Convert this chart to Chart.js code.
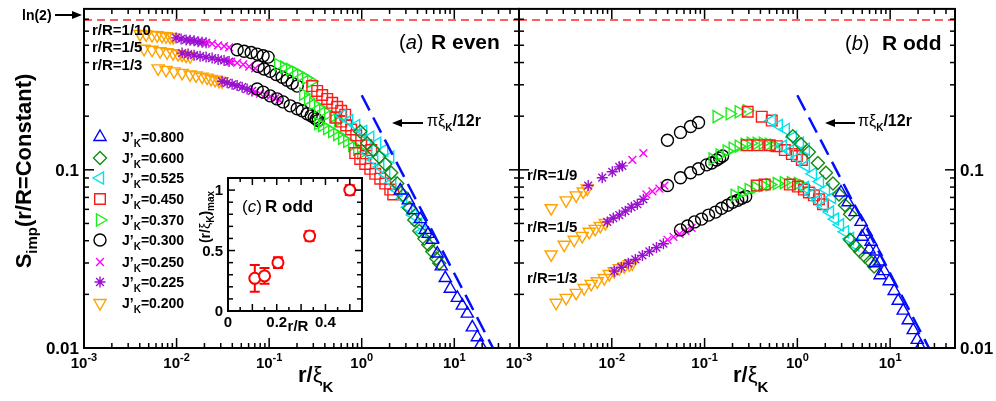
<!DOCTYPE html>
<html lang="en">
<head>
<meta charset="UTF-8">
<title>S_imp versus r/xi_K</title>
<script src="https://cdn.jsdelivr.net/npm/chart.js"></script>
<style>
  body { margin: 0; background: #fff; }
  .wrap { position: relative; width: 996px; height: 401px; background: #fff; }
  .wrap canvas { position: absolute; left: 0; top: 0; }
</style>
</head>
<body>
<div class="wrap">
  <canvas id="evenChart" width="996" height="401"></canvas>
  <canvas id="oddChart" width="996" height="401"></canvas>
  <canvas id="insetChart" width="996" height="401"></canvas>
</div>
<script>
// ---- axis ticks ----
const xMajorTicks = [0.001, 0.01, 0.1, 1, 10];
const xTickExponents = ['-3', '-2', '-1', '0', '1'];
const xMinorTicks = [0.002, 0.003, 0.004, 0.005, 0.006, 0.007, 0.008, 0.009,
  0.02, 0.03, 0.04, 0.05, 0.06, 0.07, 0.08, 0.09,
  0.2, 0.3, 0.4, 0.5, 0.6, 0.7, 0.8, 0.9,
  2, 3, 4, 5, 6, 7, 8, 9, 20, 30, 40];
const yMajorTicks = [0.01, 0.1];
const yTickLabels = ['0.01', '0.1'];
const yMinorTicks = [0.02, 0.03, 0.04, 0.05, 0.06, 0.07, 0.08, 0.09, 0.2, 0.3, 0.4, 0.5, 0.6, 0.7];

// reference lines
const ln2Line = [[0.001, 0.693], [50, 0.693]];
const theoryLine = [[1, 0.262], [26.2, 0.01]];   // pi xi_K / 12 r

const jLabels = ['0.800', '0.600', '0.525', '0.450', '0.370', '0.300', '0.250', '0.225', '0.200'];

// ---- (a) R even : [r/xi_K, S_imp] ----
const evenJ800 = [[2.608,0.0766],[3.182,0.0674],[3.604,0.0594],[4.29,0.0529],[4.859,0.046],[5.235,0.0437],[5.783,0.0405],
  [6.55,0.0339],[7.236,0.0287],[7.99,0.0247],[9.05,0.0215],[10.78,0.0191],[12.2,0.0173],[13.82,0.0156],[15.65,0.01306],[17.73,0.0115],[19.1,0.01039]];
const evenJ600 = [[0.963,0.1642],[1.147,0.141],[1.331,0.129],[1.546,0.118],[1.795,0.1079],[2.084,0.0963],[2.42,0.0837],[2.81,0.0719],
  [3.262,0.0609],[3.695,0.0523],[4.183,0.0454],[4.739,0.0411],[5.235,0.038],[5.783,0.0348],[6.389,0.0318],[6.88,0.0299]];
const evenJ525 = [[0.6155,0.2013],[0.7326,0.1889],[0.872,0.1773],[1.038,0.1642],[1.236,0.1522],[1.471,0.141],[1.751,0.129],[2.033,0.118],
  [1.176,0.1242],[1.365,0.1136],[1.585,0.1039],[1.84,0.0939],[2.136,0.0848],[2.481,0.0766],[2.81,0.0692],[3.182,0.0617],[3.604,0.0557],[4.082,0.0497],[4.51,0.0449]];
const evenJ450 = [[0.2916,0.295],[0.3303,0.277],[0.374,0.263],[0.4236,0.25],[0.4798,0.2376],[0.5434,0.2257],[0.6004,0.2145],[0.6633,0.2039],
  [0.53,0.1963],[0.6004,0.1865],[0.68,0.1773],[0.77,0.1684],[0.872,0.1561],[0.9876,0.1464],[1.118,0.1374],[1.267,0.129],
  [0.851,0.1242],[0.963,0.115],[1.091,0.1079],[1.236,0.1013],[1.399,0.095],[1.585,0.0892],[1.795,0.0837],[2.033,0.0775],[2.19,0.0727]];
const evenJ370 = [[0.1251,0.39],[0.1453,0.378],[0.1687,0.366],[0.1958,0.352],[0.2218,0.339],[0.2512,0.327],[0.2845,0.314],
  [0.2332,0.266],[0.264,0.25],[0.299,0.2346],[0.3386,0.2257],[0.3836,0.2145],[0.4343,0.2064],[0.4919,0.1988],[0.557,0.1889],
  [0.3386,0.1818],[0.374,0.1773],[0.4236,0.1706],[0.4798,0.1642],[0.5434,0.1581],[0.6155,0.1502],[0.697,0.1446],[0.7895,0.1374],[0.894,0.1306],[0.9876,0.1242]];
const evenJ300 = [[0.0451,0.472],[0.0537,0.463],[0.0639,0.455],[0.0742,0.446],[0.0861,0.437],[0.0975,0.429],
  [0.076,0.38],[0.0883,0.368],[0.1025,0.357],[0.119,0.343],[0.1382,0.331],[0.1565,0.318],[0.1773,0.306],[0.2008,0.295],
  [0.0742,0.284],[0.0861,0.273],[0.1025,0.26],[0.1221,0.25],[0.1417,0.2405],[0.1687,0.2286],[0.2008,0.22],[0.2274,0.2145],
  [0.2575,0.2064],[0.2845,0.2013],[0.3066,0.1963],[0.3222,0.1925],[0.3386,0.1889]];
const evenJ250 = [[0.02084,0.516],[0.0242,0.51],[0.0281,0.5],[0.0326,0.494],[0.0369,0.487],
  [0.0388,0.405],[0.0451,0.398],[0.0524,0.39],[0.0608,0.38],[0.0706,0.371],
  [0.0706,0.273],[0.0799,0.268],[0.0905,0.263],[0.1025,0.258],[0.1161,0.252],[0.1283,0.247]];
const evenJ225 = [[0.00988,0.55],[0.01119,0.543],[0.01267,0.536],[0.01399,0.533],[0.01546,0.53],[0.01708,0.523],[0.01887,0.52],[0.02084,0.516],
  [0.01147,0.452],[0.01331,0.446],[0.01546,0.44],[0.01795,0.434],[0.02084,0.429],[0.0242,0.424],[0.0281,0.416],[0.0326,0.411],[0.0369,0.405],
  [0.031,0.314],[0.0352,0.308],[0.0398,0.302],[0.0451,0.297],[0.0511,0.291],[0.0578,0.284],[0.0655,0.277]];
const evenJ200 = [[0.00403,0.579],[0.00468,0.575],[0.00543,0.571],[0.00616,0.569],[0.00697,0.564],[0.0077,0.562],[0.00851,0.557],[0.00917,0.555],
  [0.00445,0.478],[0.00543,0.472],[0.00663,0.463],[0.00789,0.457],[0.00917,0.452],[0.01038,0.446],[0.01147,0.443],[0.01267,0.437],[0.01399,0.434],
  [0.00631,0.371],[0.0077,0.364],[0.0094,0.357],[0.01147,0.35],[0.01399,0.343],[0.01625,0.339],[0.01887,0.333],[0.02137,0.329],
  [0.0236,0.324],[0.0261,0.32],[0.0288,0.316],[0.031,0.314]];

// ---- (b) R odd : [r/xi_K, S_imp] ----
const oddJ800 = [[2.953,0.0746],[3.515,0.0657],[4.183,0.0579],[4.859,0.051],[5.501,0.0449],[6.232,0.0395],[7.058,0.0348],[7.796,0.0306],
  [8.612,0.027],[9.754,0.0237],[11.05,0.0209],[12.2,0.0184],[13.82,0.0162],[15.65,0.0143],[17.73,0.0126],[19.58,0.0111],[21.1,0.01013],
  [4.98,0.0421],[5.93,0.0357],[6.88,0.0299],[7.796,0.0256]];
const oddJ600 = [[0.894,0.1541],[1.091,0.1392],[1.331,0.1257],[1.665,0.1093],[2.033,0.0963],[2.42,0.0837],[2.81,0.0727],[3.262,0.0633],[3.695,0.0564],
  [3.695,0.0405],[4.183,0.0375],[4.739,0.0348],[5.366,0.0326],[6.078,0.0306],[6.714,0.0287]];
const oddJ525 = [[0.53,0.1889],[0.631,0.1773],[0.751,0.1684],[0.894,0.1522],[1.064,0.141],[1.236,0.1306],
  [0.697,0.1357],[0.8299,0.1274],[1.012,0.1165],[1.236,0.1052],[1.471,0.095],[1.751,0.0859],[2.033,0.0775],[2.36,0.07],
  [1.205,0.0795],[1.435,0.0727],[1.665,0.0674],[1.934,0.0625],[2.246,0.0579],[2.543,0.0529],[2.881,0.0491],[3.262,0.0449],[3.695,0.0411],[4.183,0.038]];
const oddJ450 = [[0.2916,0.2118],[0.4133,0.1988],[0.53,0.1889],
  [0.2845,0.1374],[0.374,0.1374],[0.5043,0.1374],[0.6004,0.1357],[0.7326,0.129],[0.872,0.1226],[0.9876,0.1195],[1.118,0.1136],
  [0.3648,0.0816],[0.4453,0.0826],[0.8299,0.0826],[1.012,0.0805],[1.176,0.0775],[1.331,0.0746],[1.508,0.0719],[1.708,0.0683],[1.887,0.0641]];
const oddJ370 = [[0.1348,0.1988],[0.1863,0.2064],[0.2332,0.2118],[0.2845,0.2145],
  [0.1221,0.115],[0.1453,0.121],[0.1729,0.1274],[0.2008,0.1323],[0.2332,0.1357],[0.2706,0.1392],[0.3143,0.141],[0.3648,0.141],[0.4236,0.141],[0.4919,0.1392],[0.557,0.1374],
  [0.211,0.0719],[0.2512,0.0746],[0.299,0.0775],[0.356,0.0795],[0.4236,0.0816],[0.5043,0.0826],[0.6004,0.0837],[0.7146,0.0847],[0.851,0.0847],[1.012,0.0837],[1.147,0.0816]];
const oddJ300 = [[0.0398,0.1464],[0.055,0.1622],[0.0706,0.175],[0.0861,0.1842],
  [0.0398,0.0816],[0.055,0.0903],[0.0706,0.0963],[0.0861,0.1013],[0.1051,0.1066],[0.119,0.1093],[0.1348,0.1136],[0.1453,0.1165],[0.1565,0.1195],
  [0.055,0.046],[0.0655,0.0484],[0.0779,0.051],[0.0928,0.0529],[0.1105,0.0557],[0.1315,0.0579],[0.1527,0.0609],[0.1773,0.0633],
  [0.2008,0.0657],[0.2274,0.0674],[0.2512,0.0692],[0.2774,0.0709]];
const oddJ250 = [[0.01666,0.1136],[0.0219,0.1242],
  [0.0236,0.0727],[0.0274,0.0756],[0.0326,0.0785],[0.0369,0.0816],
  [0.0398,0.0405],[0.0462,0.0421],[0.0537,0.0437],[0.0623,0.0454],[0.0724,0.0472]];
const oddJ225 = [[0.00557,0.0816],[0.00789,0.0903],[0.01012,0.0975],[0.01205,0.1039],[0.01299,0.1052],
  [0.00894,0.051],[0.01038,0.0536],[0.01205,0.0557],[0.01399,0.0586],[0.01625,0.0617],[0.01887,0.0641],[0.0219,0.0683],
  [0.01064,0.027],[0.01267,0.0284],[0.0151,0.0299],[0.01795,0.0314],[0.02137,0.0331],[0.0254,0.0348],[0.0303,0.0366],[0.036,0.0385]];
const oddJ200 = [[0.00222,0.0609],[0.00322,0.0674],[0.00413,0.0719],[0.00492,0.0756],[0.00543,0.0785],
  [0.00222,0.0335],[0.00307,0.038],[0.00393,0.0405],[0.0048,0.0426],[0.00571,0.0449],[0.00663,0.0466],[0.00751,0.0484],[0.00851,0.0503],
  [0.00251,0.01795],[0.00322,0.0191],[0.00413,0.0204],[0.00504,0.0217],[0.006,0.0229],[0.00697,0.0237],[0.0083,0.0247],[0.0094,0.026],
  [0.01064,0.027],[0.01205,0.028],[0.01365,0.0287],[0.01546,0.0295],[0.01666,0.0299]];

// ---- (c) inset, R odd ----
const insetRatio = [0.11, 0.15, 0.205, 0.335, 0.5];
const insetMax = [0.27, 0.29, 0.40, 0.62, 1.0];
const insetErr = [0.11, 0.065, 0.045, 0.04, 0.04];

// marker style per J'_K, same order as jLabels
const seriesStyle = [
  { color: '#0000ff', shape: 'triangle', rot: 0, r: 7 },
  { color: '#138a13', shape: 'rectRot', rot: 0, r: 6.5 },
  { color: '#00e2ea', shape: 'triangle', rot: -90, r: 7 },
  { color: '#ff1a1a', shape: 'rect', rot: 0, r: 7.5 },
  { color: '#1cee1c', shape: 'triangle', rot: 90, r: 7 },
  { color: '#000000', shape: 'circle', rot: 0, r: 6 },
  { color: '#ff00ff', shape: 'crossRot', rot: 0, r: 5.5 },
  { color: '#9a10d0', shape: 'star', rot: 0, r: 5.5 },
  { color: '#ffa200', shape: 'triangle', rot: 180, r: 7 }
];

const FONT = '"Liberation Sans", Arial, Helvetica, sans-serif';
const legendY = [137, 158, 178, 199, 220, 240, 262, 282, 303];

function markerSet(points, s) {
  return {
    data: points.map(p => ({ x: p[0], y: p[1] })),
    showLine: false,
    pointStyle: s.shape,
    pointRotation: s.rot,
    pointRadius: s.r,
    pointBorderColor: s.color,
    pointBackgroundColor: 'rgba(0,0,0,0)',
    pointBorderWidth: 1.4,
    clip: 0
  };
}

function dashSet(points, color, width, dash) {
  return {
    data: points.map(p => ({ x: p[0], y: p[1] })),
    showLine: true,
    borderColor: color,
    borderWidth: width,
    borderDash: dash,
    pointRadius: 0,
    fill: false,
    clip: 0
  };
}

// text made of pieces: [text, size, style, dy]
function rich(ctx, parts, x, y, align) {
  let total = 0;
  const widths = parts.map(p => {
    ctx.font = (p[2] || 'bold') + ' ' + p[1] + 'px ' + FONT;
    const w = ctx.measureText(p[0]).width;
    total += w;
    return w;
  });
  let cx = align === 'center' ? x - total / 2 : (align === 'right' ? x - total : x);
  ctx.textAlign = 'left';
  ctx.textBaseline = 'alphabetic';
  parts.forEach((p, i) => {
    ctx.font = (p[2] || 'bold') + ' ' + p[1] + 'px ' + FONT;
    ctx.fillText(p[0], cx, y + (p[3] || 0));
    cx += widths[i];
  });
}

function arrow(ctx, x1, x2, y) {
  const dir = x2 > x1 ? 1 : -1;
  ctx.beginPath();
  ctx.moveTo(x1, y);
  ctx.lineTo(x2 - dir * 8, y);
  ctx.stroke();
  ctx.beginPath();
  ctx.moveTo(x2, y);
  ctx.lineTo(x2 - dir * 10, y - 4);
  ctx.lineTo(x2 - dir * 10, y + 4);
  ctx.closePath();
  ctx.fill();
}

function marker(ctx, s, x, y) {
  ctx.save();
  ctx.strokeStyle = s.color;
  ctx.fillStyle = 'rgba(0,0,0,0)';
  ctx.lineWidth = 1.4;
  if (Chart.helpers && Chart.helpers.drawPoint) {
    Chart.helpers.drawPoint(ctx, { pointStyle: s.shape, rotation: s.rot, radius: s.r, borderWidth: 1.4 }, x, y);
  } else {
    ctx.beginPath();
    ctx.arc(x, y, s.r, 0, Math.PI * 2);
    ctx.stroke();
  }
  ctx.restore();
}

function drawLogFrame(chart, labelSide) {
  const { ctx, chartArea: a } = chart;
  const xs = chart.scales.x, ys = chart.scales.y;
  ctx.save();
  ctx.strokeStyle = '#000';
  ctx.fillStyle = '#000';
  ctx.lineWidth = 1.5;
  const seg = (x1, y1, x2, y2) => { ctx.beginPath(); ctx.moveTo(x1, y1); ctx.lineTo(x2, y2); ctx.stroke(); };
  xMinorTicks.forEach(v => { const p = xs.getPixelForValue(v); seg(p, a.bottom, p, a.bottom - 5); seg(p, a.top, p, a.top + 5); });
  xMajorTicks.forEach(v => { const p = xs.getPixelForValue(v); seg(p, a.bottom, p, a.bottom - 10); seg(p, a.top, p, a.top + 10); });
  yMinorTicks.forEach(v => { const p = ys.getPixelForValue(v); seg(a.left, p, a.left + 5, p); seg(a.right, p, a.right - 5, p); });
  yMajorTicks.forEach(v => { const p = ys.getPixelForValue(v); seg(a.left, p, a.left + 10, p); seg(a.right, p, a.right - 10, p); });
  ctx.lineWidth = 2;
  ctx.strokeRect(a.left, a.top, a.right - a.left, a.bottom - a.top);

  // x tick labels 10^n
  xMajorTicks.forEach((v, i) => {
    const p = xs.getPixelForValue(v);
    ctx.font = 'bold 15px ' + FONT;
    const w1 = ctx.measureText('10').width;
    ctx.font = 'bold 11px ' + FONT;
    const w2 = ctx.measureText(xTickExponents[i]).width;
    rich(ctx, [['10', 15], [xTickExponents[i], 11, 'bold', -7]], p - (w1 + w2) / 2, 368, 'left');
  });
  // y tick labels
  yMajorTicks.forEach((v, i) => {
    const p = ys.getPixelForValue(v);
    if (labelSide === 'left') rich(ctx, [[yTickLabels[i], 17]], a.left - 5, p + 6, 'right');
    else rich(ctx, [[yTickLabels[i], 17]], a.right + 5, p + 6, 'left');
  });
  ctx.restore();
}

function panelChart(id, series, pad, labelSide, extras) {
  const datasets = [
    dashSet(ln2Line, '#ff2a2a', 1.5, [8, 5]),
    dashSet(theoryLine, '#0010ff', 2.5, [17, 8])
  ];
  series.forEach((pts, i) => datasets.push(markerSet(pts, seriesStyle[i])));
  return new Chart(document.getElementById(id), {
    type: 'scatter',
    data: { datasets: datasets },
    options: {
      responsive: false,
      animation: false,
      devicePixelRatio: 1,
      events: [],
      layout: { padding: pad },
      plugins: { legend: { display: false }, tooltip: { enabled: false } },
      scales: {
        x: { type: 'logarithmic', min: 0.001, max: 50, display: false },
        y: { type: 'logarithmic', min: 0.01, max: 0.8, display: false }
      }
    },
    plugins: [{
      id: 'frame',
      afterDatasetsDraw(chart) { drawLogFrame(chart, labelSide); },
      afterDraw(chart) { extras(chart); }
    }]
  });
}

// left panel: R even
panelChart('evenChart',
  [evenJ800, evenJ600, evenJ525, evenJ450, evenJ370, evenJ300, evenJ250, evenJ225, evenJ200],
  { left: 84, right: 477, top: 3, bottom: 53 }, 'left',
  function (chart) {
    const ctx = chart.ctx;
    ctx.save();
    ctx.fillStyle = '#000';
    ctx.strokeStyle = '#000';
    ctx.lineWidth = 2;
    // y title
    ctx.save();
    ctx.translate(31, 171);
    ctx.rotate(-Math.PI / 2);
    rich(ctx, [['S', 22], ['imp', 15, 'bold', 6], ['(r/R=Constant)', 22]], 0, 0, 'center');
    ctx.restore();
    // x title
    rich(ctx, [['r/', 22], ['\u03be', 22, 'normal'], ['K', 15, 'bold', 10]], 298, 382, 'left');
    // ln(2) marker
    rich(ctx, [['ln(2)', 14]], 22, 20, 'left');
    arrow(ctx, 55, 82, 15);
    // pi xi_K / 12 r
    arrow(ctx, 423, 392, 123);
    rich(ctx, [['\u03c0\u03be', 16, 'normal'], ['K', 10, 'bold', 5], ['/12r', 16]], 427, 126, 'left');
    // curve labels
    rich(ctx, [['r/R=1/10', 15]], 92, 35, 'left');
    rich(ctx, [['r/R=1/5', 15]], 92, 52, 'left');
    rich(ctx, [['r/R=1/3', 15]], 92, 70, 'left');
    // panel label
    rich(ctx, [['(', 20, 'normal'], ['a', 20, 'italic'], [')', 20, 'normal']], 399, 49, 'left');
    rich(ctx, [['R even', 21]], 431, 49, 'left');
    // legend
    jLabels.forEach((lab, i) => {
      marker(ctx, seriesStyle[i], 100, legendY[i]);
      ctx.fillStyle = '#000';
      rich(ctx, [['J\u2019', 14], ['K', 10, 'bold', 5], ['=' + lab, 14]], 122, legendY[i] + 5, 'left');
    });
    ctx.restore();
  });

// right panel: R odd
panelChart('oddChart',
  [oddJ800, oddJ600, oddJ525, oddJ450, oddJ370, oddJ300, oddJ250, oddJ225, oddJ200],
  { left: 519, right: 41, top: 3, bottom: 53 }, 'right',
  function (chart) {
    const ctx = chart.ctx;
    ctx.save();
    ctx.fillStyle = '#000';
    ctx.strokeStyle = '#000';
    ctx.lineWidth = 2;
    rich(ctx, [['r/', 22], ['\u03be', 22, 'normal'], ['K', 15, 'bold', 10]], 733, 382, 'left');
    arrow(ctx, 855, 825, 123);
    rich(ctx, [['\u03c0\u03be', 16, 'normal'], ['K', 10, 'bold', 5], ['/12r', 16]], 858, 126, 'left');
    rich(ctx, [['r/R=1/9', 15]], 527, 180, 'left');
    rich(ctx, [['r/R=1/5', 15]], 527, 232, 'left');
    rich(ctx, [['r/R=1/3', 15]], 527, 283, 'left');
    rich(ctx, [['(', 20, 'normal'], ['b', 20, 'italic'], [')', 20, 'normal']], 845, 50, 'left');
    rich(ctx, [['R odd', 21]], 882, 50, 'left');
    ctx.restore();
  });

// inset (c)
new Chart(document.getElementById('insetChart'), {
  type: 'scatter',
  data: {
    datasets: [{
      data: insetRatio.map((v, i) => ({ x: v, y: insetMax[i] })),
      showLine: false,
      pointStyle: 'circle',
      pointRadius: 5.5,
      pointBorderColor: '#ff0000',
      pointBackgroundColor: '#ffffff',
      pointBorderWidth: 2
    }]
  },
  options: {
    responsive: false,
    animation: false,
    devicePixelRatio: 1,
    events: [],
    layout: { padding: { left: 228, right: 634, top: 178, bottom: 90 } },
    plugins: { legend: { display: false }, tooltip: { enabled: false } },
    scales: {
      x: { type: 'linear', min: 0, max: 0.55, display: false },
      y: { type: 'linear', min: 0, max: 1.1, display: false }
    }
  },
  plugins: [{
    id: 'insetFrame',
    beforeDatasetsDraw(chart) {
      const { ctx, chartArea: a } = chart;
      const xs = chart.scales.x, ys = chart.scales.y;
      ctx.save();
      ctx.fillStyle = '#fff';
      ctx.fillRect(a.left, a.top, a.right - a.left, a.bottom - a.top);
      // error bars
      ctx.strokeStyle = '#ff0000';
      ctx.lineWidth = 2;
      insetRatio.forEach((v, i) => {
        const px = xs.getPixelForValue(v);
        const lo = ys.getPixelForValue(insetMax[i] - insetErr[i]);
        const hi = ys.getPixelForValue(insetMax[i] + insetErr[i]);
        ctx.beginPath();
        ctx.moveTo(px, lo); ctx.lineTo(px, hi);
        ctx.moveTo(px - 5, lo); ctx.lineTo(px + 5, lo);
        ctx.moveTo(px - 5, hi); ctx.lineTo(px + 5, hi);
        ctx.stroke();
      });
      ctx.restore();
    },
    afterDatasetsDraw(chart) {
      const { ctx, chartArea: a } = chart;
      const xs = chart.scales.x, ys = chart.scales.y;
      ctx.save();
      ctx.strokeStyle = '#000';
      ctx.fillStyle = '#000';
      ctx.lineWidth = 1.5;
      const seg = (x1, y1, x2, y2) => { ctx.beginPath(); ctx.moveTo(x1, y1); ctx.lineTo(x2, y2); ctx.stroke(); };
      for (let k = 1; k < 11; k++) {
        const p = xs.getPixelForValue(k * 0.05);
        const len = k % 2 === 0 ? 7 : 4;
        seg(p, a.bottom, p, a.bottom - len);
        seg(p, a.top, p, a.top + len);
      }
      for (let k = 1; k < 11; k++) {
        const p = ys.getPixelForValue(k * 0.1);
        const len = k % 5 === 0 ? 7 : 5;
        seg(a.left, p, a.left + len, p);
        seg(a.right, p, a.right - len, p);
      }
      ctx.lineWidth = 2;
      ctx.strokeRect(a.left, a.top, a.right - a.left, a.bottom - a.top);
      // tick labels
      [[0, '0'], [0.2, '0.2'], [0.4, '0.4']].forEach(t => rich(ctx, [[t[1], 15]], xs.getPixelForValue(t[0]), 327, 'center'));
      [[0, '0'], [0.5, '0.5'], [1, '1']].forEach(t => rich(ctx, [[t[1], 15]], a.left - 5, ys.getPixelForValue(t[0]) + 5, 'right'));
      // titles
      rich(ctx, [['r/R', 15]], 298, 331, 'center');
      ctx.save();
      ctx.translate(210, 217);
      ctx.rotate(-Math.PI / 2);
      rich(ctx, [['(r/', 14], ['\u03be', 14, 'normal'], ['K', 10, 'bold', 4], [')', 14], ['max', 10, 'bold', 4]], 0, 0, 'center');
      ctx.restore();
      rich(ctx, [['(', 17, 'normal'], ['c', 17, 'italic'], [')', 17, 'normal']], 242, 212, 'left');
      rich(ctx, [['R odd', 17]], 265, 212, 'left');
      ctx.restore();
    }
  }]
});
</script>
</body>
</html>
